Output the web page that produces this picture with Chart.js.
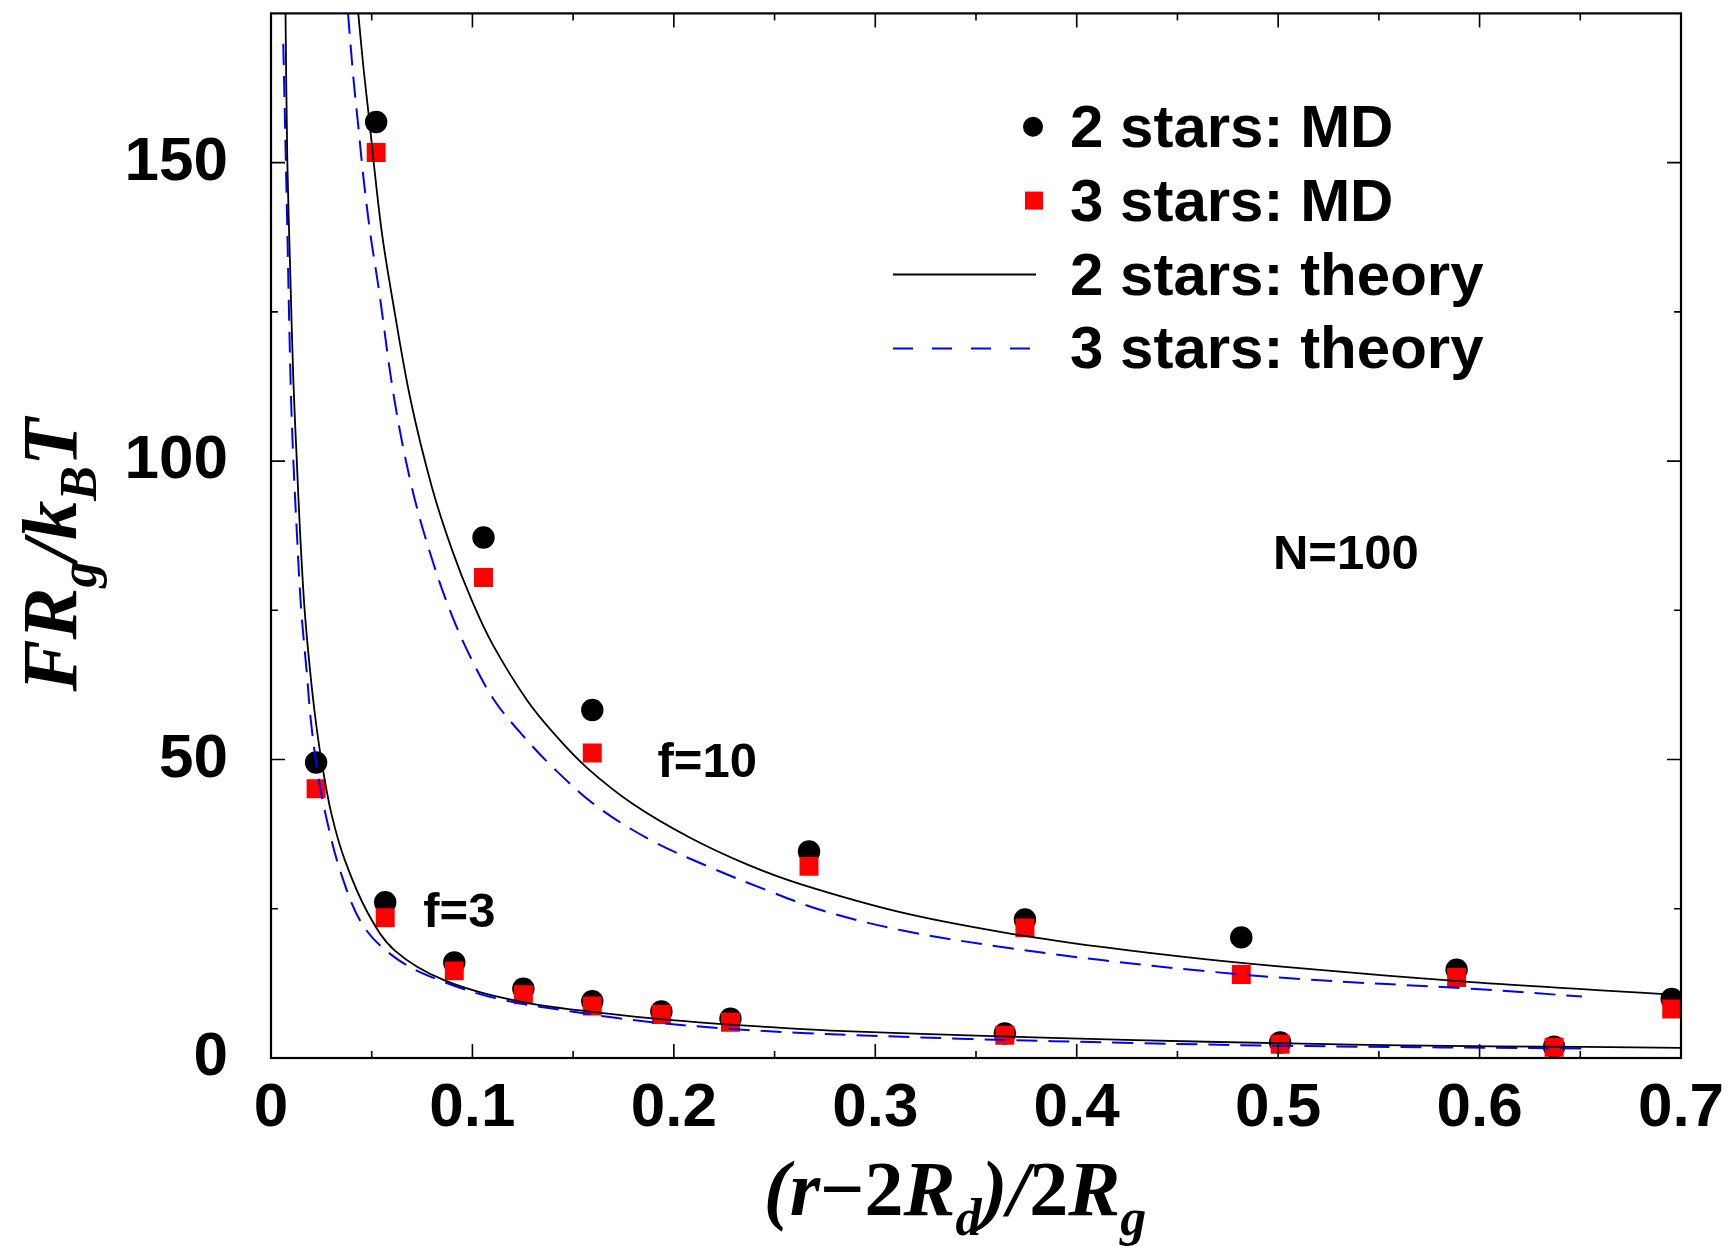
<!DOCTYPE html>
<html lang="en">
<head>
<meta charset="UTF-8">
<title>Force between stars</title>
<script src="https://cdn.jsdelivr.net/npm/chart.js"></script>
<style>
  html, body { margin: 0; padding: 0; background: #fff; }
</style>
</head>
<body>
<canvas id="forceChart" width="1729" height="1246"></canvas>
<script>
// MD points, f=3
const f3X        = [0.0224, 0.0567, 0.0910, 0.1253, 0.1595, 0.1938, 0.2281, 0.3643, 0.5010, 0.6370];
const f3TwoMD    = [49.5, 26.1, 16.0, 11.6, 9.5, 7.8, 6.6, 4.1, 2.6, 1.9];
const f3ThreeMD  = [45.1, 23.5, 14.6, 10.6, 8.7, 7.3, 6.0, 3.8, 2.3, 1.8];

// MD points, f=10
const f10X       = [0.0522, 0.1055, 0.1595, 0.2671, 0.3743, 0.4817, 0.5886, 0.6954];
const f10TwoMD   = [156.8, 87.2, 58.3, 34.6, 23.2, 20.2, 14.8, 9.9];
const f10ThreeMD = [151.7, 80.5, 51.1, 32.1, 21.8, 14.0, 13.5, 8.2];

// theory curves
const twoF10X = [0.0433, 0.0459, 0.0489, 0.0509, 0.0551, 0.0604, 0.0692, 0.080, 0.090, 0.100, 0.110, 0.1272, 0.1414, 0.1566, 0.1795, 0.2081, 0.2366, 0.2632, 0.3129, 0.3627, 0.4124, 0.4622, 0.5119, 0.5958, 0.6625, 0.701];
const twoF10Y = [175.1, 165.9, 156.8, 150.3, 138.1, 126.9, 110.4, 95.5, 85.0, 76.4, 69.3, 59.9, 54.0, 48.7, 42.6, 36.9, 32.4, 29.1, 24.4, 21.1, 18.6, 16.6, 15.0, 12.7, 11.3, 10.5];

const threeF10X = [0.0382, 0.0409, 0.0434, 0.0459, 0.0493, 0.0534, 0.0612, 0.070, 0.080, 0.090, 0.100, 0.1109, 0.1243, 0.1414, 0.1624, 0.1891, 0.2176, 0.2462, 0.2738, 0.3129, 0.3627, 0.4124, 0.4622, 0.5119, 0.5958, 0.6508];
const threeF10Y = [175.1, 164.2, 155.9, 147.5, 138.1, 129.1, 110.4, 95.5, 83.5, 74.0, 66.5, 59.9, 54.3, 48.2, 42.0, 36.4, 32.0, 28.1, 24.7, 21.4, 18.6, 16.4, 14.6, 13.2, 11.6, 10.3];

const twoF3X = [0.0072, 0.0081, 0.0095, 0.0111, 0.0128, 0.0144, 0.0166, 0.0194, 0.0222, 0.0253, 0.0300, 0.0367, 0.0482, 0.0615, 0.0862, 0.1243, 0.1605, 0.2004, 0.2462, 0.2780, 0.3461, 0.4290, 0.5119, 0.5620, 0.6525, 0.7010];
const twoF3Y = [175.0, 150.3, 132.4, 113.5, 100.1, 88.3, 75.5, 64.9, 56.5, 49.3, 40.9, 33.1, 24.2, 18.0, 13.0, 9.4, 7.7, 6.3, 5.2, 4.6, 3.8, 3.0, 2.4, 2.1, 1.85, 1.7];

const threeF3X = [0.0061, 0.0078, 0.0098, 0.0111, 0.0128, 0.0149, 0.0178, 0.0198, 0.0225, 0.0263, 0.0348, 0.0463, 0.0634, 0.0862, 0.1129, 0.1509, 0.1891, 0.2271, 0.2632, 0.3461, 0.4290, 0.5119, 0.6508];
const threeF3Y = [169.9, 143.6, 112.3, 100.1, 88.3, 75.5, 64.4, 56.5, 49.3, 42.0, 30.9, 21.9, 16.4, 12.7, 9.9, 7.7, 6.0, 4.9, 4.2, 3.2, 2.5, 2.0, 1.6];

// axes
const xTicks = [0, 0.1, 0.2, 0.3, 0.4, 0.5, 0.6, 0.7];
const xTickLabels = ['0', '0.1', '0.2', '0.3', '0.4', '0.5', '0.6', '0.7'];
const xMinor = [0.05, 0.15, 0.25, 0.35, 0.45, 0.55, 0.65];
const yTicks = [0, 50, 100, 150];
const yTickLabels = ['0', '50', '100', '150'];
const yMinor = [25, 75, 125];

// text labels placed in data units
const notes = [
  { text: 'N=100', x: 0.4974, y: 81.9 },
  { text: 'f=10',  x: 0.1919, y: 47.0 },
  { text: 'f=3',   x: 0.0756, y: 21.9 }
];

const SANS = '"Liberation Sans", Arial, sans-serif';
const SERIF = '"Liberation Serif", "Times New Roman", serif';

function pts(xs, ys) {
  return xs.map((x, i) => ({ x: x, y: ys[i] }));
}

const solidTheory = { borderColor: '#000', borderWidth: 1.8, showLine: true, pointRadius: 0, fill: false, tension: 0.35, order: 0 };
const dashTheory = { borderColor: '#0000ff', borderWidth: 2, borderDash: [21, 11], showLine: true, pointRadius: 0, fill: false, tension: 0.35, order: 0 };

const datasets = [
  Object.assign({ label: '2 stars: theory', data: pts(twoF10X, twoF10Y) }, solidTheory),
  Object.assign({ label: '2 stars: theory', data: pts(twoF3X, twoF3Y) }, solidTheory),
  Object.assign({ label: '3 stars: theory', data: pts(threeF10X, threeF10Y) }, dashTheory),
  Object.assign({ label: '3 stars: theory', data: pts(threeF3X, threeF3Y) }, dashTheory),
  {
    label: '3 stars: MD',
    data: pts(f3X, f3ThreeMD).concat(pts(f10X, f10ThreeMD)),
    pointStyle: 'rect', pointRadius: 13.4, pointHoverRadius: 13.4,
    backgroundColor: '#ff0000', borderWidth: 0, showLine: false, order: 1
  },
  {
    label: '2 stars: MD',
    data: pts(f3X, f3TwoMD).concat(pts(f10X, f10TwoMD)),
    pointStyle: 'circle', pointRadius: 11.2, pointHoverRadius: 11.2,
    backgroundColor: '#000', borderWidth: 0, showLine: false, order: 2
  }
];

// legend rows: which dataset gives the style
const legendRows = [5, 4, 0, 2];

// frame and inward ticks on all four sides
const frameTicks = {
  id: 'frameTicks',
  afterDatasetsDraw(chart) {
    const ctx = chart.ctx, a = chart.chartArea;
    const xs = chart.scales.x, ys = chart.scales.y;
    ctx.save();
    ctx.strokeStyle = '#000';
    ctx.lineWidth = 1.6;
    ctx.beginPath();
    xTicks.forEach(v => {
      const p = xs.getPixelForValue(v);
      ctx.moveTo(p, a.bottom); ctx.lineTo(p, a.bottom - 14);
      ctx.moveTo(p, a.top); ctx.lineTo(p, a.top + 14);
    });
    xMinor.forEach(v => {
      const p = xs.getPixelForValue(v);
      ctx.moveTo(p, a.bottom); ctx.lineTo(p, a.bottom - 7);
      ctx.moveTo(p, a.top); ctx.lineTo(p, a.top + 7);
    });
    yTicks.forEach(v => {
      const p = ys.getPixelForValue(v);
      ctx.moveTo(a.left, p); ctx.lineTo(a.left + 14, p);
      ctx.moveTo(a.right, p); ctx.lineTo(a.right - 14, p);
    });
    yMinor.forEach(v => {
      const p = ys.getPixelForValue(v);
      ctx.moveTo(a.left, p); ctx.lineTo(a.left + 7, p);
      ctx.moveTo(a.right, p); ctx.lineTo(a.right - 7, p);
    });
    ctx.stroke();
    ctx.lineWidth = 2.2;
    ctx.strokeRect(a.left, a.top, a.right - a.left, a.bottom - a.top);
    ctx.restore();
  }
};

// draws text made of pieces with different fonts, centred on x
function drawPieces(ctx, pieces, x, y) {
  let total = 0;
  pieces.forEach(p => { ctx.font = p.font; total += ctx.measureText(p.t).width; });
  let cx = x - total / 2;
  pieces.forEach(p => {
    ctx.font = p.font;
    ctx.fillText(p.t, cx, y + (p.dy || 0));
    cx += ctx.measureText(p.t).width;
  });
}

const IT = 'italic bold 78px ' + SERIF;
const UP = 'bold 78px ' + SERIF;
const SUB = 'italic bold 52px ' + SERIF;

const xTitle = [
  { t: '(', font: IT }, { t: 'r', font: IT }, { t: '\u2212', font: UP }, { t: '2', font: UP },
  { t: 'R', font: IT }, { t: 'd', font: SUB, dy: 20 }, { t: ')/', font: IT }, { t: '2', font: UP },
  { t: 'R', font: IT }, { t: 'g', font: SUB, dy: 20 }
];
const yTitle = [
  { t: 'FR', font: IT }, { t: 'g', font: SUB, dy: 20 }, { t: '/', font: IT },
  { t: 'k', font: IT }, { t: 'B', font: SUB, dy: 20 }, { t: 'T', font: IT }
];

const textBits = {
  id: 'textBits',
  afterDraw(chart) {
    const ctx = chart.ctx;
    const xs = chart.scales.x, ys = chart.scales.y;
    ctx.save();
    ctx.fillStyle = '#000';
    ctx.textBaseline = 'alphabetic';
    ctx.textAlign = 'left';

    // axis titles
    drawPieces(ctx, xTitle, 955, 1215);
    ctx.save();
    ctx.translate(76, 555);
    ctx.rotate(-Math.PI / 2);
    drawPieces(ctx, yTitle, 0, 0);
    ctx.restore();

    // notes
    ctx.font = 'bold 49px ' + SANS;
    notes.forEach(n => {
      ctx.fillText(n.text, xs.getPixelForValue(n.x), ys.getPixelForValue(n.y));
    });

    // legend
    ctx.font = 'bold 60px ' + SANS;
    legendRows.forEach((di, i) => {
      const ds = chart.data.datasets[di];
      const base = 146.7 + i * 73.9;
      const my = base - 20;
      if (ds.showLine) {
        ctx.save();
        ctx.strokeStyle = ds.borderColor;
        ctx.lineWidth = ds.borderWidth;
        ctx.setLineDash(ds.borderDash ? [20, 19] : []);
        ctx.beginPath();
        ctx.moveTo(893, my); ctx.lineTo(1036, my);
        ctx.stroke();
        ctx.restore();
      } else if (ds.pointStyle === 'rect') {
        ctx.fillStyle = ds.backgroundColor;
        ctx.fillRect(1025, my - 9, 18, 18);
      } else {
        ctx.fillStyle = ds.backgroundColor;
        ctx.beginPath();
        ctx.arc(1033, my, 10, 0, Math.PI * 2);
        ctx.fill();
      }
      ctx.fillStyle = '#000';
      ctx.fillText(ds.label, 1070, base);
    });
    ctx.restore();
  }
};

const tickFont = { family: SANS, size: 62, weight: 'bold' };

new Chart(document.getElementById('forceChart'), {
  type: 'scatter',
  data: { datasets: datasets },
  options: {
    responsive: false,
    animation: false,
    devicePixelRatio: 1,
    layout: { padding: { top: 12, right: 48, left: 0, bottom: 0 } },
    plugins: { legend: { display: false }, tooltip: { enabled: false } },
    scales: {
      x: {
        type: 'linear', min: 0, max: 0.7,
        afterBuildTicks: s => { s.ticks = xTicks.map(v => ({ value: v })); },
        afterFit: s => { s.height = 188; s.paddingLeft = 0; s.paddingRight = 0; },
        ticks: { callback: (v, i) => xTickLabels[i], font: tickFont, color: '#000', padding: 14, maxRotation: 0, autoSkip: false },
        grid: { display: false, drawTicks: false },
        border: { display: false }
      },
      y: {
        type: 'linear', min: 0, max: 175,
        afterBuildTicks: s => { s.ticks = yTicks.map(v => ({ value: v })); },
        afterFit: s => { s.width = 271; s.paddingTop = 0; s.paddingBottom = 0; },
        ticks: { callback: (v, i) => yTickLabels[i], font: tickFont, color: '#000', padding: 43, autoSkip: false },
        grid: { display: false, drawTicks: false },
        border: { display: false }
      }
    }
  },
  plugins: [frameTicks, textBits]
});
</script>
</body>
</html>
